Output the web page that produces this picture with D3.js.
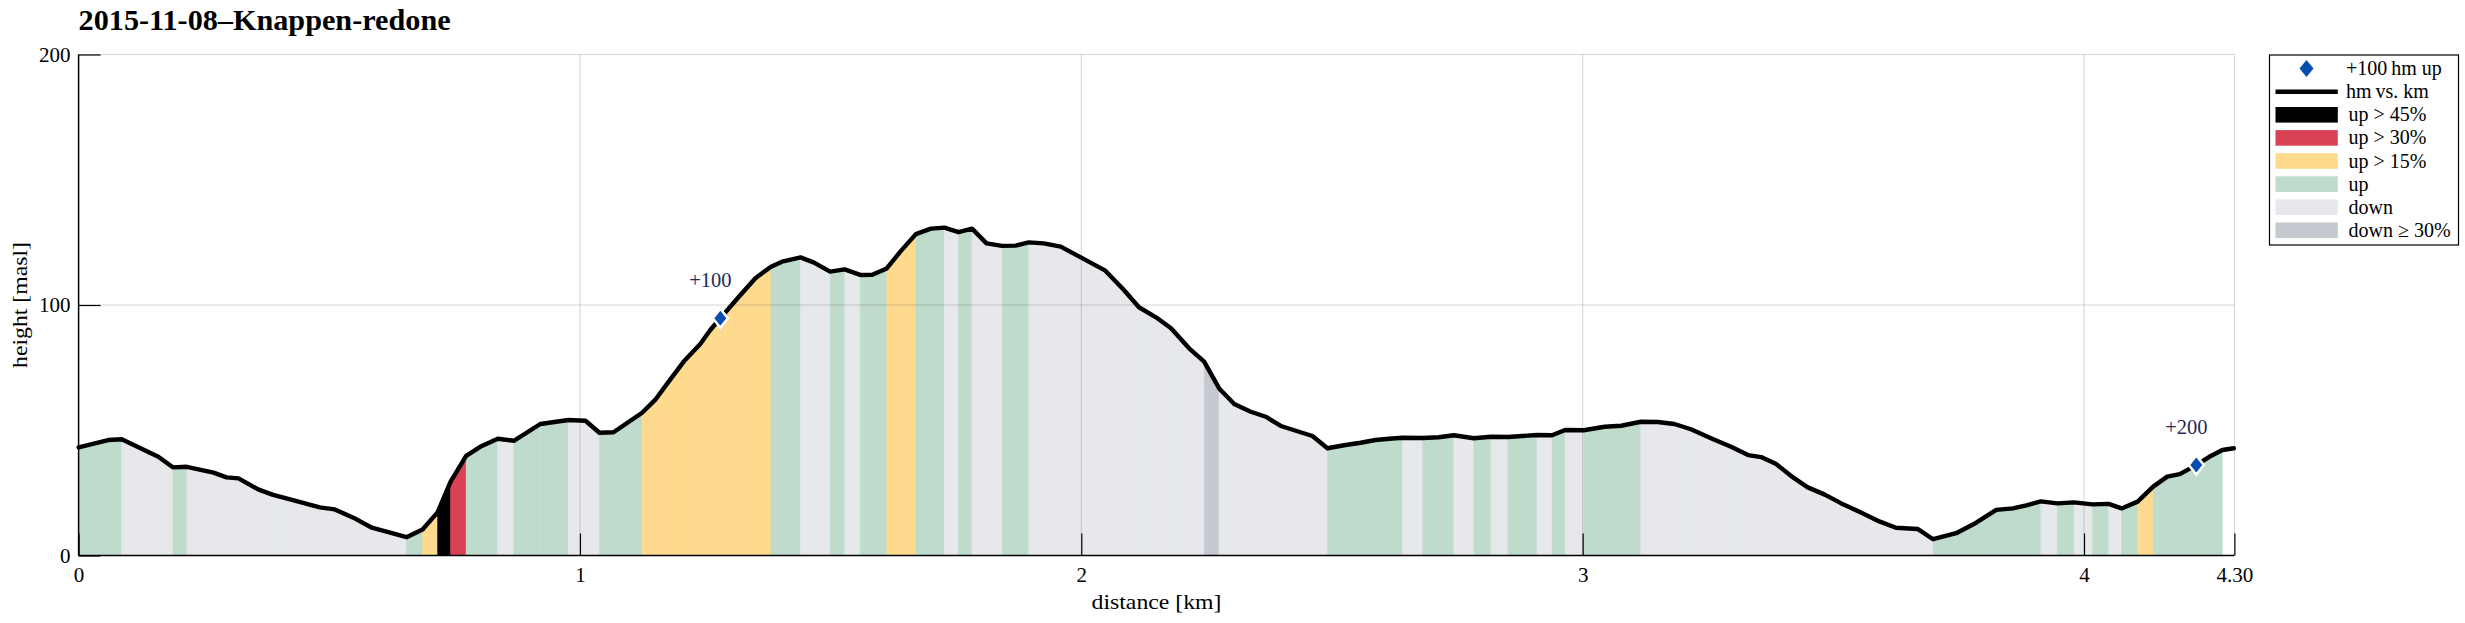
<!DOCTYPE html>
<html><head><meta charset="utf-8">
<script src="https://cdn.jsdelivr.net/npm/d3@7"></script>
<style>
body{margin:0;background:#fff}
svg{display:block}
text{font-family:"Liberation Serif","Times New Roman",serif;fill:#000}
</style>
</head><body>
<svg id="chart" width="2465" height="623"></svg>
<script>
// ---------------- data ----------------
const chartTitle = "2015-11-08–Knappen-redone";
const xLabel = "distance [km]";
const yLabel = "height [masl]";

const distKm = [
  0.000, 0.059, 0.086, 0.159, 0.188, 0.216, 0.269, 0.295, 0.319, 0.358,
  0.388, 0.422, 0.481, 0.511, 0.548, 0.585, 0.654, 0.686, 0.716, 0.742,
  0.773, 0.801, 0.836, 0.868, 0.921, 0.977, 1.011, 1.039, 1.067, 1.124,
  1.150, 1.177, 1.207, 1.240, 1.260, 1.280, 1.317, 1.350, 1.381, 1.403,
  1.423, 1.440, 1.467, 1.499, 1.528, 1.559, 1.583, 1.612, 1.639, 1.670,
  1.700, 1.727, 1.755, 1.782, 1.811, 1.842, 1.869, 1.895, 1.925, 1.959,
  1.999, 2.048, 2.085, 2.115, 2.149, 2.179, 2.215, 2.245, 2.275, 2.305,
  2.338, 2.368, 2.398, 2.428, 2.461, 2.491, 2.527, 2.557, 2.587, 2.614,
  2.641, 2.681, 2.713, 2.743, 2.783, 2.817, 2.851, 2.909, 2.939, 2.965,
  3.002, 3.044, 3.077, 3.116, 3.150, 3.183, 3.216, 3.256, 3.296, 3.330,
  3.356, 3.386, 3.416, 3.449, 3.483, 3.516, 3.556, 3.593, 3.625, 3.668,
  3.699, 3.745, 3.785, 3.825, 3.858, 3.885, 3.914, 3.947, 3.980, 4.017,
  4.049, 4.075, 4.107, 4.138, 4.166, 4.191, 4.224, 4.250, 4.276, 4.299
];

const heightM = [
  43.2, 46.1, 46.4, 39.4, 35.2, 35.4, 33.1, 31.2, 30.8, 26.4,
  24.2, 22.4, 19.2, 18.4, 15.1, 11.1, 7.3, 10.4, 17.2, 29.5,
  39.8, 43.4, 46.6, 45.8, 52.5, 54.1, 53.8, 49.0, 49.2, 57.0,
  62.1, 69.4, 77.4, 84.4, 90.0, 94.7, 103.3, 110.7, 115.3, 117.3,
  118.2, 119.0, 116.9, 113.3, 114.2, 112.0, 112.1, 114.6, 121.3, 128.3,
  130.5, 130.9, 129.1, 130.5, 124.6, 123.6, 123.7, 125.0, 124.6, 123.3,
  119.0, 113.7, 106.0, 99.1, 95.1, 90.7, 82.7, 77.4, 66.7, 60.5,
  57.4, 55.4, 51.7, 49.8, 47.7, 42.8, 44.1, 45.0, 46.1, 46.6,
  47.0, 46.9, 47.2, 48.0, 46.8, 47.4, 47.3, 48.1, 48.0, 50.1,
  50.0, 51.4, 51.8, 53.4, 53.3, 52.5, 50.4, 46.8, 43.4, 40.1,
  39.3, 36.5, 31.7, 27.2, 24.3, 20.8, 17.1, 13.5, 11.1, 10.6,
  6.5, 8.9, 13.1, 18.2, 18.8, 20.0, 21.6, 20.8, 21.2, 20.4,
  20.6, 18.8, 21.5, 27.5, 31.5, 32.5, 36.1, 39.4, 42.1, 42.8
];

// class of the segment from point i to point i+1
const segClass = [
  "up","up","dn","dn","up","dn","dn","dn","dn","dn",
  "dn","dn","dn","dn","dn","dn","up","u15","u45","u30",
  "up","up","dn","up","up","dn","dn","up","up","u15",
  "u15","u15","u15","u15","u15","u15","u15","u15","up","up",
  "up","dn","dn","up","dn","up","up","u15","u15","up",
  "up","dn","up","dn","dn","up","up","dn","dn","dn",
  "dn","dn","dn","dn","dn","dn","dn","d30","dn","dn",
  "dn","dn","dn","dn","dn","up","up","up","up","up",
  "dn","up","up","dn","up","dn","up","dn","up","dn",
  "up","up","up","dn","dn","dn","dn","dn","dn","dn",
  "dn","dn","dn","dn","dn","dn","dn","dn","dn","dn",
  "up","up","up","up","up","up","dn","up","dn","up",
  "dn","up","u15","up","up","up","up","up","none"
];

const markerKm = [1.280, 4.224];
const markerH = [94.7, 36.1];
const markerLabels = ["+100", "+200"];

const xTickValues = [0, 1, 2, 3, 4, 4.30];
const xTickLabels = ["0", "1", "2", "3", "4", "4.30"];
const yTickValues = [0, 100, 200];
const yTickLabels = ["0", "100", "200"];

const legendKeys = ["marker", "line", "u45", "u30", "u15", "up", "dn", "d30"];
const legendLabels = ["+100\u2009hm up", "hm\u2009vs. km", "up > 45%", "up > 30%", "up > 15%", "up", "down", "down \u2265 30%"];

// ---------------- style ----------------
const classColor = {
  u45: "#000000", u30: "#DA4155", u15: "#FDDA8D",
  up: "#BFDBCB", dn: "#E7E8EB", d30: "#C6C9D0", none: "none"
};
const markerColor = "#0A4DB2";
const markerText = "#1E2A5A";

const plot = {left: 78.6, right: 2234.4, top: 54.5, bottom: 555.5};

const svg = d3.select("#chart");
const x = d3.scaleLinear().domain([0, 4.30]).range([plot.left, plot.right]);
const y = d3.scaleLinear().domain([0, 200]).range([plot.bottom, plot.top]);

// ---------------- fills ----------------
const pts = distKm.map((d, i) => ({km: d, h: heightM[i]}));
const segs = segClass.map((c, i) => ({cls: c, a: pts[i], b: pts[i + 1]}));
const area = d3.area().x(p => x(p.km)).y0(y(0)).y1(p => y(p.h));
svg.append("g").selectAll("path").data(segs.filter(s => s.cls !== "none")).join("path")
  .attr("d", s => area([s.a, s.b]))
  .attr("fill", s => classColor[s.cls])
  .attr("stroke", s => classColor[s.cls])
  .attr("stroke-width", 0.5);

// ---------------- grid ----------------
const grid = svg.append("g").attr("stroke", "#262626").attr("stroke-opacity", 0.2).attr("stroke-width", 1);
grid.selectAll("line.gx").data(xTickValues.filter(v => v > 0)).join("line")
  .attr("x1", d => x(d)).attr("x2", d => x(d)).attr("y1", plot.top).attr("y2", plot.bottom);
grid.selectAll("line.gy").data(yTickValues.filter(v => v > 0)).join("line")
  .attr("y1", d => y(d)).attr("y2", d => y(d)).attr("x1", plot.left).attr("x2", plot.right);

// ---------------- profile line ----------------
const line = d3.line().x(p => x(p.km)).y(p => y(p.h));
svg.append("path").datum(pts).attr("d", line)
  .attr("fill", "none").attr("stroke", "#000").attr("stroke-width", 4.4)
  .attr("stroke-linejoin", "round").attr("stroke-linecap", "round");

// ---------------- markers ----------------
function diamondPath(cx, cy, hw, hh) {
  return `M${cx},${cy - hh}L${cx + hw},${cy}L${cx},${cy + hh}L${cx - hw},${cy}Z`;
}
const mk = markerKm.map((d, i) => ({km: d, h: markerH[i], label: markerLabels[i]}));
svg.append("g").selectAll("path").data(mk).join("path")
  .attr("d", d => diamondPath(x(d.km), y(d.h), 7.5, 9.5))
  .attr("fill", markerColor).attr("stroke", "#fff").attr("stroke-width", 2.5).attr("stroke-linejoin", "miter");
svg.append("g").selectAll("text").data(mk).join("text")
  .attr("x", d => x(d.km) - 10).attr("y", d => y(d.h) - 31)
  .attr("text-anchor", "middle").attr("font-size", 20.5).style("fill", markerText)
  .text(d => d.label);

// ---------------- axes ----------------
const xAxis = d3.axisBottom(x).tickValues(xTickValues).tickSize(-22).tickPadding(0)
  .tickFormat((d, i) => xTickLabels[i]);
const gx = svg.append("g").attr("transform", `translate(0,${plot.bottom})`).call(xAxis);
gx.select(".domain").attr("stroke", "#000").attr("stroke-width", 1.5).attr("d", `M${plot.left},0H${plot.right}`);
gx.selectAll(".tick line").attr("stroke", "#000").attr("stroke-width", 1.2);
gx.selectAll(".tick text").attr("font-size", 21).attr("font-family", "Liberation Serif, serif")
  .attr("y", 26.5).attr("dy", 0).style("fill", "#000");

const yAxis = d3.axisLeft(y).tickValues(yTickValues).tickSize(-22).tickPadding(0)
  .tickFormat((d, i) => yTickLabels[i]);
const gy = svg.append("g").attr("transform", `translate(${plot.left},0)`).call(yAxis);
gy.select(".domain").attr("stroke", "#000").attr("stroke-width", 1.5).attr("d", `M0,${plot.top}V${plot.bottom}`);
gy.selectAll(".tick line").attr("stroke", "#000").attr("stroke-width", 1.2);
gy.selectAll(".tick text").attr("font-size", 21).attr("font-family", "Liberation Serif, serif")
  .attr("x", -8).attr("dy", "0.33em").style("fill", "#000");

// axis titles
svg.append("text").attr("x", (plot.left + plot.right) / 2).attr("y", 609)
  .attr("text-anchor", "middle").attr("font-size", 21.5)
  .attr("textLength", 130).attr("lengthAdjust", "spacingAndGlyphs").text(xLabel);
svg.append("text").attr("transform", `translate(27,${(plot.top + plot.bottom) / 2}) rotate(-90)`)
  .attr("text-anchor", "middle").attr("font-size", 21.5)
  .attr("textLength", 126).attr("lengthAdjust", "spacingAndGlyphs").text(yLabel);

// title
svg.append("text").attr("x", plot.left).attr("y", 30)
  .attr("font-size", 30).attr("font-weight", "bold")
  .attr("textLength", 372).attr("lengthAdjust", "spacingAndGlyphs").text(chartTitle);

// ---------------- legend ----------------
const lg = svg.append("g");
lg.append("rect").attr("x", 2269.5).attr("y", 55).attr("width", 189).attr("height", 190)
  .attr("fill", "#fff").attr("stroke", "#000").attr("stroke-width", 1.2);
const rowY = i => 68.6 + i * 23.1;
legendKeys.forEach((k, i) => {
  const cy = rowY(i);
  if (k === "marker") {
    lg.append("path").attr("d", diamondPath(2306.5, cy, 7, 8.5)).attr("fill", markerColor);
  } else if (k === "line") {
    lg.append("line").attr("x1", 2275.5).attr("x2", 2337.8).attr("y1", cy).attr("y2", cy)
      .attr("stroke", "#000").attr("stroke-width", 4.4);
  } else {
    lg.append("rect").attr("x", 2275.5).attr("y", cy - 7.8).attr("width", 62.3).attr("height", 15.6)
      .attr("fill", classColor[k]);
  }
  lg.append("text").attr("x", (k === "marker" || k === "line") ? 2346 : 2348.6).attr("y", cy + 6.5)
    .attr("font-size", 20).text(legendLabels[i]);
});
</script>
</body></html>
